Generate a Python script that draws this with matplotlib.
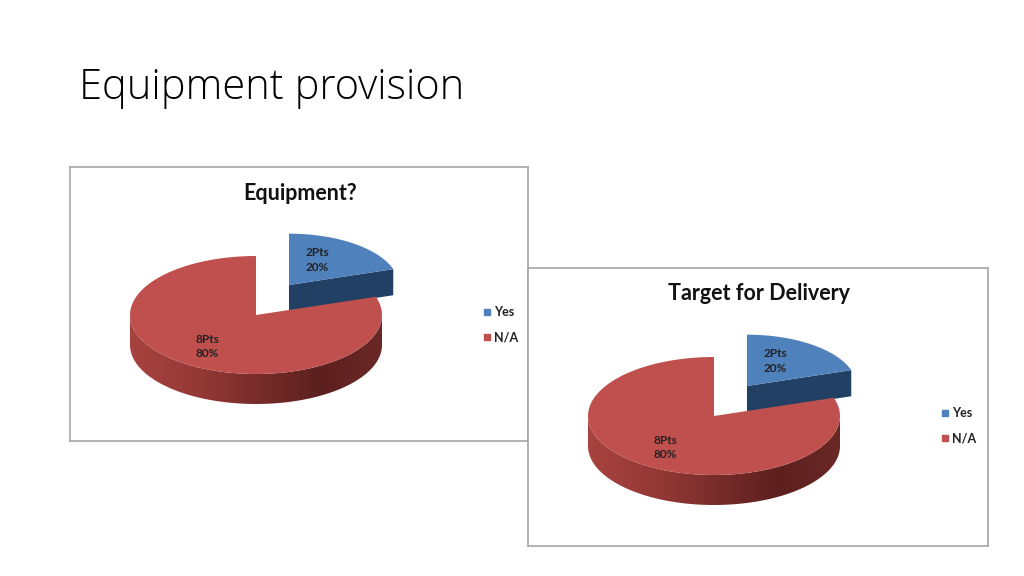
import numpy as np
import matplotlib.pyplot as plt
from matplotlib.patches import Polygon
from matplotlib.lines import Line2D
from matplotlib.colors import LinearSegmentedColormap

plt.rcParams['font.family'] = ['Lato', 'DejaVu Sans']

slide_title = 'Equipment provision'
chart_titles = ['Equipment?', 'Target for Delivery']
categories = ['Yes', 'N/A']
pts_equipment = [2, 8]
pts_delivery = [2, 8]
explode = [True, False]
colors = ['#4F81BD', '#C0504D']
side_colors = ['#223F64', None]

# chart boxes in slide pixels (left, top, width, height)
boxes = [(70, 167, 458, 274), (528, 268, 460, 278)]

W, H = 1024, 576
fig = plt.figure(figsize=(W / 100, H / 100), dpi=100)
fig.text(79 / W, 1 - 99 / H, slide_title, fontsize=30, fontweight='light',
         family=['Open Sans', 'DejaVu Sans'], color='#000000', va='baseline', ha='left')

red_side = LinearSegmentedColormap.from_list(
    'rs', ['#A8433F', '#963A37', '#7A2D2B', '#5C201E', '#6A2826'])


def arc(cx, cy, a, b, t1, t2, n=120):
    t = np.radians(np.linspace(t1, t2, n))
    return np.column_stack([cx + a * np.cos(t), cy - b * np.sin(t)])


def pie3d(ax, vals, cx, cy, a=126, b=59, depth=30, shift=(33, -30), far=0.87):
    total = sum(vals)
    start = 90.0
    wedges = []
    for i, v in enumerate(vals):
        sweep = 360.0 * v / total
        wedges.append((i, start - sweep, start))
        start -= sweep
    # exploded (back) slices first
    wedges.sort(key=lambda w: not explode[w[0]])
    for i, t1, t2 in wedges:
        if explode[i]:
            ox, oy = cx + shift[0], cy + shift[1]
            aa, bb, dd = a * far, b * far, depth * far
        else:
            ox, oy, aa, bb, dd = cx, cy, a, b, depth
        # radial faces
        for t, vis in ((t1, np.cos(np.radians(t1)) > 1e-6),
                       (t2, np.cos(np.radians(t2)) < -1e-6)):
            if vis:
                px, py = arc(ox, oy, aa, bb, t, t, 1)[0]
                face = [(ox, oy), (px, py), (px, py + dd), (ox, oy + dd)]
                ax.add_patch(Polygon(face, closed=True, fc=side_colors[i] or '#5C201E',
                                     ec='none', zorder=2))
        # outer side on the front half
        for k in range(-2, 2):
            lo, hi = max(t1, 180 + 360 * k), min(t2, 360 + 360 * k)
            if hi <= lo:
                continue
            top = arc(ox, oy, aa, bb, lo, hi)
            bot = top[::-1] + [0, dd]
            poly = Polygon(np.vstack([top, bot]), closed=True, fc='none', ec='none')
            ax.add_patch(poly)
            if side_colors[i]:
                poly.set_facecolor(side_colors[i])
                poly.set_zorder(2)
            else:
                grad = np.linspace(0, 1, 256)[None, :]
                im = ax.imshow(grad, cmap=red_side, aspect='auto', zorder=2,
                               extent=(ox - aa, ox + aa, oy + bb + dd, oy - 2))
                im.set_clip_path(poly)
        # top face
        topface = np.vstack([[ox, oy], arc(ox, oy, aa, bb, t1, t2), [ox, oy]])
        ax.add_patch(Polygon(topface, closed=True, fc=colors[i], ec='none', zorder=3))
        # label
        mid = np.radians((t1 + t2) / 2)
        if explode[i]:
            lx = ox + 0.55 * aa * np.cos(mid) - 7
            ly = oy - 0.55 * bb * np.sin(mid) - 2
        else:
            lx = ox + 0.66 * aa * np.cos(mid)
            ly = oy - 0.66 * bb * np.sin(mid)
        ax.text(lx, ly, f'{vals[i]}Pts\n{100 * vals[i] / total:.0f}%', ha='center',
                va='center', fontsize=8.5, fontweight='bold', color='#222222',
                linespacing=1.4, zorder=4)


for (bx, by, bw, bh), title, vals in zip(boxes, chart_titles, [pts_equipment, pts_delivery]):
    ax = fig.add_axes([bx / W, 1 - (by + bh) / H, bw / W, bh / H])
    ax.set_facecolor('white')
    ax.set_xticks([])
    ax.set_yticks([])
    for s in ax.spines.values():
        s.set_color('#A6A6A6')
        s.set_linewidth(1.2)
    ax.text(bw / 2 + 1, 26, title, ha='center', va='center', fontsize=15.5,
            fontweight='bold', color='#111111')
    pie3d(ax, vals, 186, 148)
    handles = [Line2D([], [], marker='s', ls='', color=c, markersize=5) for c in colors]
    ax.legend(handles, categories, loc='center left', frameon=False,
              bbox_to_anchor=(400 / bw, 1 - 158 / bh), handletextpad=0.1,
              labelspacing=1.05, handlelength=0.9,
              prop={'size': 9, 'weight': 'bold'}, labelcolor='#222222')
    ax.set_xlim(0, bw)
    ax.set_ylim(bh, 0)

fig.savefig('out.png', dpi=100)
